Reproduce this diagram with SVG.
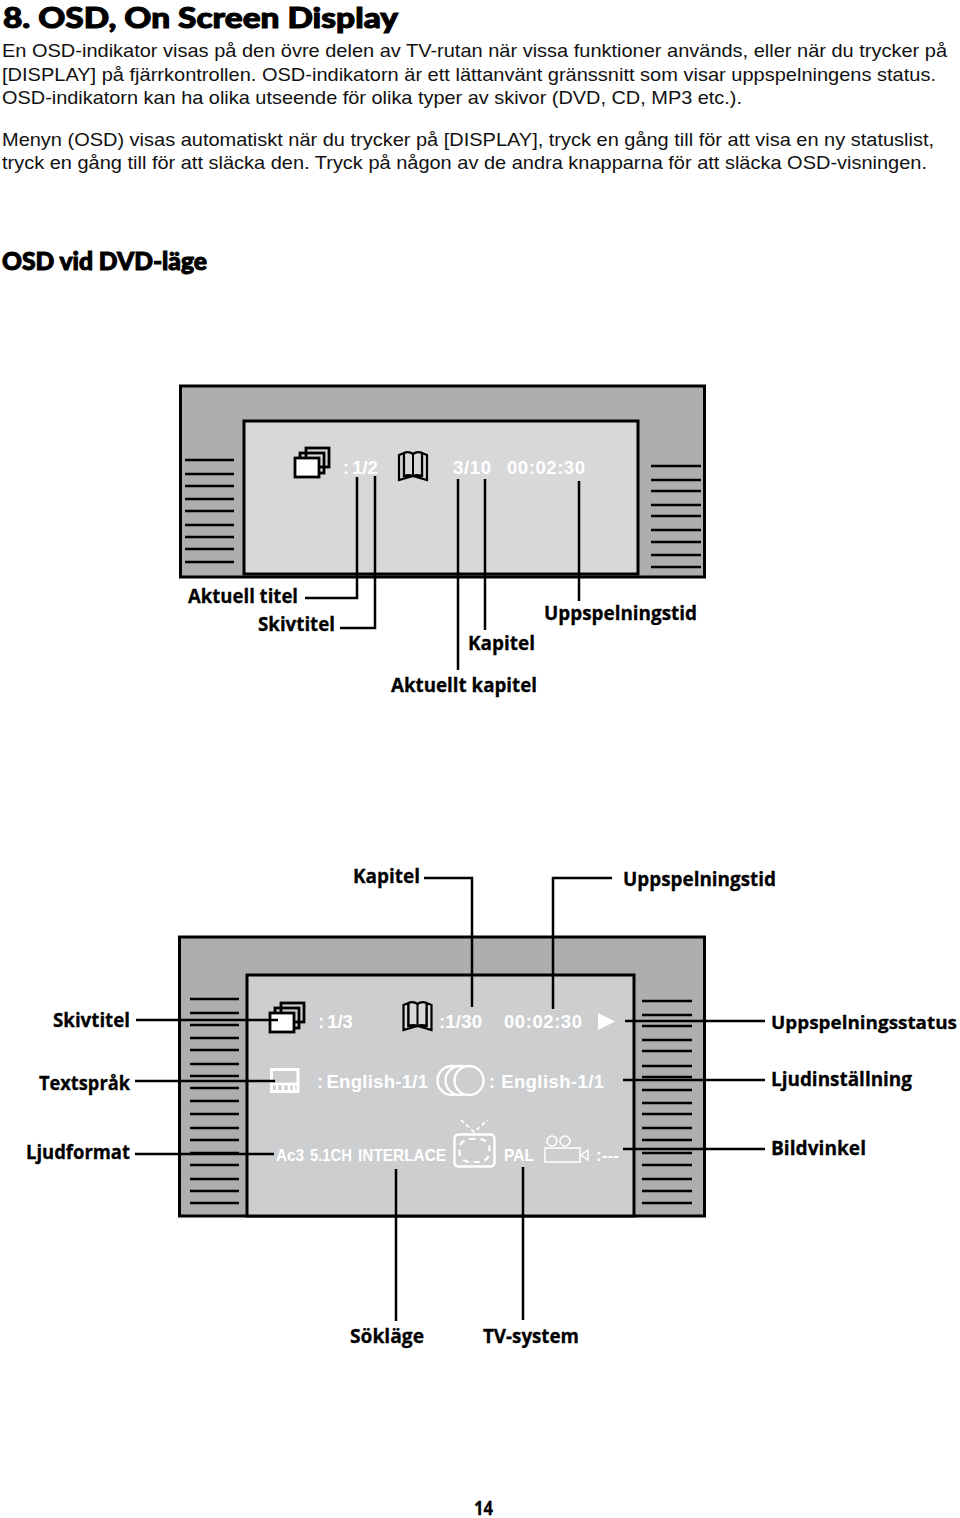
<svg xmlns="http://www.w3.org/2000/svg" width="960" height="1518" viewBox="0 0 960 1518">
<style>
.b{font-family:"Liberation Sans",Arial,sans-serif;font-size:18.6px;fill:#111}
.h{font-family:"Lato","Open Sans",sans-serif;font-weight:900;fill:#000;stroke:#000;stroke-width:1}
.l{font-family:"Open Sans","Lato",sans-serif;font-weight:700;font-size:20px;fill:#000;stroke:#000;stroke-width:.3}
.o{font-family:"Liberation Sans",Arial,sans-serif;font-weight:700;font-size:18.5px;fill:#fff}
.s{font-family:"Liberation Sans",Arial,sans-serif;font-size:17px;fill:#fff;font-weight:700}
.tv{fill:#adaeb0;stroke:#000;stroke-width:3}
.sc{fill:#d7d8da;stroke:#000;stroke-width:3}
.sc2{fill:#cdced0;stroke:#000;stroke-width:3}
.g{stroke:#000;stroke-width:2.5;fill:none}
.c{stroke:#000;stroke-width:2.5;fill:none}
.ib{fill:#fff;stroke:#000;stroke-width:2.8}
.bk{fill:#d7d8da;stroke:#000;stroke-width:2.2}
.w{fill:none;stroke:#fff;stroke-width:2.4}
.d{fill:none;stroke:#fff;stroke-width:2.2;stroke-dasharray:6 5}
</style>
<defs>
<g id="stack"><rect class="ib" x="12" y="1" width="23" height="19" style="fill:none"/><rect class="ib" x="6" y="6" width="24" height="20" style="fill:none"/><rect class="ib" x="1" y="11" width="24" height="19"/></g>
<g id="book"><path class="bk" d="M1 4L1 29L15 25L29 29L29 4L24 2L24 25L15 25L6 25L6 2Z"/><path class="bk" d="M6 2Q11 0 15 3Q19 0 24 2L24 25Q19 23 15 25Q11 23 6 25Z"/><path class="g" style="stroke-width:2" d="M15 3V25"/></g>
</defs>

<g id="intro">
<text class="h" x="3" y="28" font-size="28" textLength="395" lengthAdjust="spacingAndGlyphs">8. OSD, On Screen Display</text>
<text class="b" x="2" y="57" textLength="945" lengthAdjust="spacingAndGlyphs">En OSD-indikator visas på den övre delen av TV-rutan när vissa funktioner används, eller när du trycker på</text>
<text class="b" x="2" y="80.500" textLength="934" lengthAdjust="spacingAndGlyphs">[DISPLAY] på fjärrkontrollen. OSD-indikatorn är ett lättanvänt gränssnitt som visar uppspelningens status.</text>
<text class="b" x="2" y="104" textLength="740" lengthAdjust="spacingAndGlyphs">OSD-indikatorn kan ha olika utseende för olika typer av skivor (DVD, CD, MP3 etc.).</text>
<text class="b" x="2" y="145.500" textLength="932" lengthAdjust="spacingAndGlyphs">Menyn (OSD) visas automatiskt när du trycker på [DISPLAY], tryck en gång till för att visa en ny statuslist,</text>
<text class="b" x="2" y="169" textLength="925" lengthAdjust="spacingAndGlyphs">tryck en gång till för att släcka den. Tryck på någon av de andra knapparna för att släcka OSD-visningen.</text>
<text class="h" x="2" y="269.500" font-size="24" textLength="205" lengthAdjust="spacingAndGlyphs">OSD vid DVD-läge</text>
</g>

<g id="tv-1">
<rect class="tv" x="180.500" y="386" width="524" height="191"/>
<rect class="sc" x="244" y="421" width="394" height="153"/>
<path class="g" d="M185 460H234M185 474H234M185 486H234M185 499H234M185 511H234M185 525H234M185 537H234M185 549H234M185 562H234"/>
<path class="g" d="M651 466H701M651 480H701M651 491H701M651 505H701M651 516H701M651 530H701M651 542H701M651 555H701M651 567H701"/>
<use href="#stack" x="294" y="447"/>
<use href="#book" x="398" y="451"/>
<text class="o" x="343" y="474">:<tspan dx="3">1/2</tspan></text>
<text class="o" x="453" y="474" textLength="38">3/10</text>
<text class="o" x="507" y="474" textLength="78">00:02:30</text>
</g>

<g id="tv-2">
<rect class="tv" x="179.500" y="937" width="525" height="279"/>
<rect class="sc2" x="247" y="975" width="387" height="241"/>
<path class="g" d="M190 999H239M190 1013H239M190 1025H239M190 1038H239M190 1050H239M190 1064H239M190 1076H239M190 1088H239M190 1101H239M190 1114H239M190 1128H239M190 1140H239M190 1153H239M190 1165H239M190 1179H239M190 1191H239M190 1203H239"/>
<path class="g" d="M642 1001H692M642 1015H692M642 1026H692M642 1040H692M642 1051H692M642 1066H692M642 1077H692M642 1090H692M642 1103H692M642 1114H692M642 1128H692M642 1140H692M642 1153H692M642 1165H692M642 1179H692M642 1191H692M642 1203H692"/>
<use href="#stack" x="269" y="1002"/>
<use href="#book" x="402.500" y="1001"/>
<text class="o" x="318" y="1028">:<tspan dx="3">1/3</tspan></text>
<text class="o" x="439" y="1028" textLength="43">:1/30</text>
<text class="o" x="504" y="1028" textLength="78">00:02:30</text>
<path d="M598 1013L615 1021.500L598 1030Z" fill="#fff"/>
<path class="w" style="stroke-width:3" d="M271.500 1069.500H298V1091.500H271.500Z"/>
<path class="w" style="stroke-width:2.500" d="M271 1084H298M277 1091V1084M283 1091V1084M289 1091V1084M294 1091V1084"/>
<text class="o" x="317" y="1088" textLength="111">:<tspan dx="3">English-1/1</tspan></text>
<circle class="w" cx="452" cy="1080.500" r="14.500"/><circle class="w" cx="460" cy="1080.500" r="14.500" style="fill:#cdced0"/><circle class="w" cx="469" cy="1080.500" r="14.500" style="fill:#cdced0"/>
<text class="o" x="489" y="1088" textLength="115">: English-1/1</text>
<text class="s" x="276" y="1161" textLength="28" lengthAdjust="spacingAndGlyphs">Ac3</text>
<text class="s" x="310" y="1161" textLength="42" lengthAdjust="spacingAndGlyphs">5.1CH</text>
<text class="s" x="358" y="1161" textLength="88" lengthAdjust="spacingAndGlyphs">INTERLACE</text>
<rect class="w" x="454.500" y="1134.500" width="40" height="32" rx="4"/>
<rect class="d" x="459.500" y="1139" width="30" height="23" rx="10"/>
<path class="d" style="stroke-dasharray:4 3;stroke-width:1.800" d="M461 1120L474 1132L488 1120"/>
<text class="s" x="504" y="1161" textLength="30" lengthAdjust="spacingAndGlyphs">PAL</text>
<rect class="w" style="stroke-width:1.500" x="545" y="1148" width="35" height="14"/>
<circle class="w" style="stroke-width:1.500" cx="552" cy="1141" r="5"/><circle class="w" style="stroke-width:1.500" cx="565" cy="1141" r="5"/>
<path class="w" style="stroke-width:1.500" d="M588 1150L581 1155L588 1160Z"/>
<text class="s" x="596" y="1161" textLength="23" lengthAdjust="spacingAndGlyphs">:---</text>
</g>

<g id="connectors">
<path class="c" d="M357 477V598H305M375 476V628H340M458 479V670M485 479V630M579 481V601"/>
<path class="c" d="M424 878H472V1007M612 878H553V1009M136 1020H278M135 1081H275M135 1154H274M625 1021H765M623 1080H765M623 1149H765M396 1169V1321M523 1167V1320"/>
</g>

<g id="labels">
<text class="l" x="188" y="603" textLength="110" lengthAdjust="spacingAndGlyphs">Aktuell titel</text>
<text class="l" x="258" y="631" textLength="77" lengthAdjust="spacingAndGlyphs">Skivtitel</text>
<text class="l" x="544" y="620" textLength="153" lengthAdjust="spacingAndGlyphs">Uppspelningstid</text>
<text class="l" x="468" y="650" textLength="67" lengthAdjust="spacingAndGlyphs">Kapitel</text>
<text class="l" x="391" y="692" textLength="146" lengthAdjust="spacingAndGlyphs">Aktuellt kapitel</text>
<text class="l" x="353" y="883" textLength="67" lengthAdjust="spacingAndGlyphs">Kapitel</text>
<text class="l" x="623" y="886" textLength="153" lengthAdjust="spacingAndGlyphs">Uppspelningstid</text>
<text class="l" x="53" y="1027" textLength="77" lengthAdjust="spacingAndGlyphs">Skivtitel</text>
<text class="l" x="39" y="1090" textLength="91" lengthAdjust="spacingAndGlyphs">Textspråk</text>
<text class="l" x="26" y="1159" textLength="104" lengthAdjust="spacingAndGlyphs">Ljudformat</text>
<text class="l" x="771" y="1029" textLength="186" lengthAdjust="spacingAndGlyphs" style="font-size:18.500px">Uppspelningsstatus</text>
<text class="l" x="771" y="1086" textLength="141" lengthAdjust="spacingAndGlyphs">Ljudinställning</text>
<text class="l" x="771" y="1155" textLength="95" lengthAdjust="spacingAndGlyphs">Bildvinkel</text>
<text class="l" x="350" y="1343" textLength="74" lengthAdjust="spacingAndGlyphs">Sökläge</text>
<text class="l" x="483" y="1343" textLength="96" lengthAdjust="spacingAndGlyphs">TV-system</text>
<text class="l" x="474" y="1515" textLength="19" lengthAdjust="spacingAndGlyphs">14</text>
</g>
</svg>
